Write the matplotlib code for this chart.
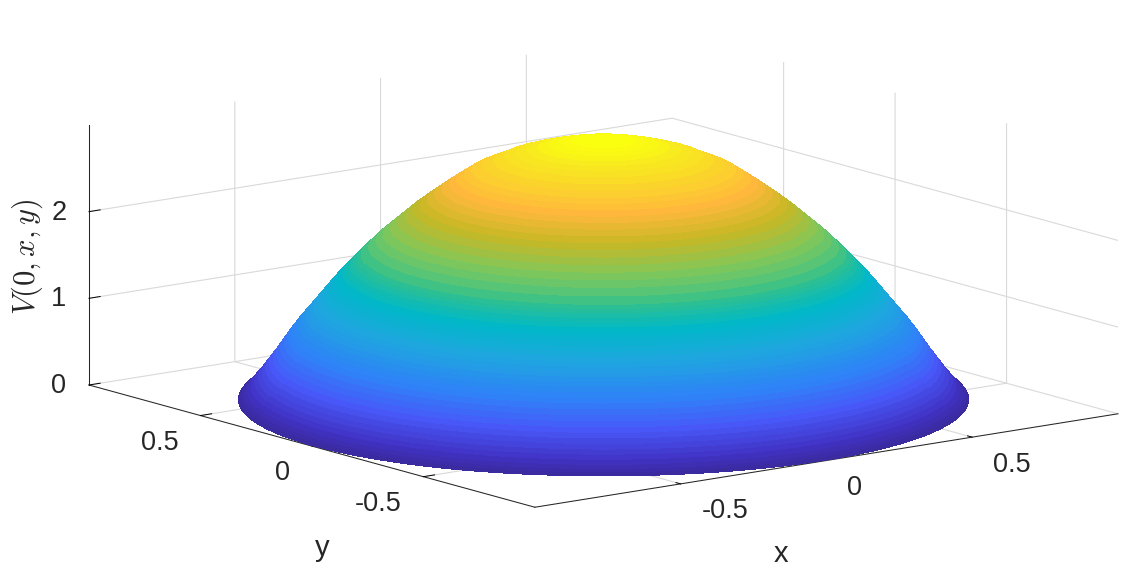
import numpy as np
import matplotlib
matplotlib.use("Agg")
import matplotlib.pyplot as plt
from matplotlib.colors import LinearSegmentedColormap
from matplotlib.transforms import Affine2D
from mpl_toolkits.mplot3d import proj3d

radius = [0.00, 0.03, 0.06, 0.09, 0.12, 0.15, 0.18, 0.21, 0.24, 0.27, 0.30, 0.33, 0.36, 0.38,
          0.40, 0.42, 0.44, 0.46, 0.48, 0.50, 0.52, 0.54, 0.56, 0.58, 0.60, 0.62, 0.64, 0.66,
          0.67, 0.68, 0.69, 0.70, 0.71, 0.72, 0.73, 0.74, 0.75, 0.76, 0.77, 0.78, 0.79, 0.80,
          0.81, 0.82, 0.83, 0.84, 0.85, 0.86, 0.87, 0.88, 0.89, 0.90, 0.91, 0.92, 0.93, 0.94,
          0.95, 0.96, 0.97, 0.98, 0.988, 0.995]
value = [3.00, 2.997, 2.99, 2.975, 2.955, 2.93, 2.90, 2.87, 2.835, 2.795, 2.74, 2.69, 2.635, 2.585,
         2.53, 2.475, 2.42, 2.36, 2.30, 2.24, 2.18, 2.11, 2.04, 1.97, 1.90, 1.83, 1.75, 1.67,
         1.63, 1.59, 1.545, 1.50, 1.455, 1.41, 1.365, 1.32, 1.27, 1.22, 1.17, 1.12, 1.07, 1.02,
         0.97, 0.92, 0.87, 0.82, 0.765, 0.71, 0.65, 0.59, 0.53, 0.47, 0.415, 0.36, 0.305, 0.25,
         0.20, 0.15, 0.10, 0.06, 0.03, 0.0]
x_ticks = [-0.5, 0, 0.5]
y_ticks = [-0.5, 0, 0.5]
z_ticks = [0, 1, 2]
x_tick_labels = ["-0.5", "0", "0.5"]
y_tick_labels = ["-0.5", "0", "0.5"]
z_tick_labels = ["0", "1", "2"]
color_stops = [(0.0, "#3A2A9A"), (0.05, "#4030C0"), (0.157, "#4858F8"), (0.255, "#3080F8"),
               (0.39, "#1EA8DE"), (0.483, "#00B8C8"), (0.563, "#30C090"), (0.653, "#78C860"),
               (0.76, "#C8B825"), (0.843, "#FFB83C"), (0.963, "#F8E820"), (1.0, "#FAFF10")]

W, H = 1126, 569
plt.rcParams["font.family"] = ["Liberation Sans", "DejaVu Sans"]
plt.rcParams["mathtext.fontset"] = "cm"
TXT = "#262626"
parula = LinearSegmentedColormap.from_list("parula", color_stops, N=256)

fig = plt.figure(figsize=(W / 100, H / 100), dpi=100)
ax = fig.add_axes([0, 0, 1, 1], projection="3d", proj_type="ortho")
ax.view_init(elev=12.1, azim=-127.4)
ax.set_box_aspect((2, 2, 0.7246))
ax.set_xlim(-1, 1, view_margin=0)
ax.set_ylim(-1, 1, view_margin=0)
ax.set_zlim(0, 3, view_margin=0)

r = np.array(radius)
v = np.array(value)
theta = np.radians(np.arange(0, 361, 2))
R, T = np.meshgrid(r, theta)
X = R * np.cos(T)
Y = R * np.sin(T)
Z = np.tile(v, (len(theta), 1))
ax.plot_surface(X, Y, Z, facecolors=parula(Z / v.max()), rstride=1, cstride=1,
                shade=False, antialiased=False, linewidth=0)

ax.set_xticks(x_ticks, x_tick_labels)
ax.set_yticks(y_ticks, y_tick_labels)
ax.set_zticks(z_ticks, z_tick_labels)
ax.tick_params(labelsize=19.5, labelcolor=TXT, pad=12)
outward = {ax.xaxis: 0.13, ax.yaxis: 0.24, ax.zaxis: 0.24}
for axis in (ax.xaxis, ax.yaxis, ax.zaxis):
    axis.set_pane_color((1, 1, 1, 0))
    axis.pane.set_edgecolor((1, 1, 1, 0))
    axis.line.set_color(TXT)
    axis.line.set_linewidth(0.75)
    axis._axinfo["grid"].update(color="#d9d9d9", linewidth=0.8)
    axis._axinfo["tick"].update(inward_factor=0.0, outward_factor=outward[axis],
                                linewidth={True: 0.7, False: 0.5}, color=TXT)


def nudge(artist, dx, dy):
    artist.set_transform(ax.transData + Affine2D().translate(dx, dy))
    artist.set_transform = lambda t: None


for axis, ha, dx, dy in ((ax.xaxis, "left", -2, 5), (ax.yaxis, "right", 8, 4), (ax.zaxis, "center", 22.5, 10.5)):
    for tick in axis.get_major_ticks():
        tick.label1.set_ha(ha)
        nudge(tick.label1, dx, dy)

fig.text(781 / W, 1 - 554 / H, "x", fontsize=21, color=TXT, ha="center", va="center")
fig.text(322 / W, 1 - 548 / H, "y", fontsize=21, color=TXT, ha="center", va="center")
fig.text(27 / W, 1 - 257 / H, "$V(0,x,y)$", fontsize=22, color=TXT, ha="center", va="center", rotation=90)


def px(p):
    xs, ys, _ = proj3d.proj_transform(p[0], p[1], p[2], ax.get_proj())
    return ax.transData.transform((xs, ys))


def place(side, cx, cy):
    ax.set_position([(cx - side / 2) / W, (cy - side / 2) / H, side / W, side / H])
    ax.apply_aspect()


side, cx, cy = 1126.0, W / 2, H / 2
place(side, cx, cy)
left, right = px((-1, 1, 0)), px((1, -1, 0))
side *= (1118 - 89) / (right[0] - left[0])
place(side, cx, cy)
left = px((-1, 1, 0))
cx += 89 - left[0]
cy += (H - 385) - left[1]
place(side, cx, cy)

fig.savefig("out.png", dpi=100)
